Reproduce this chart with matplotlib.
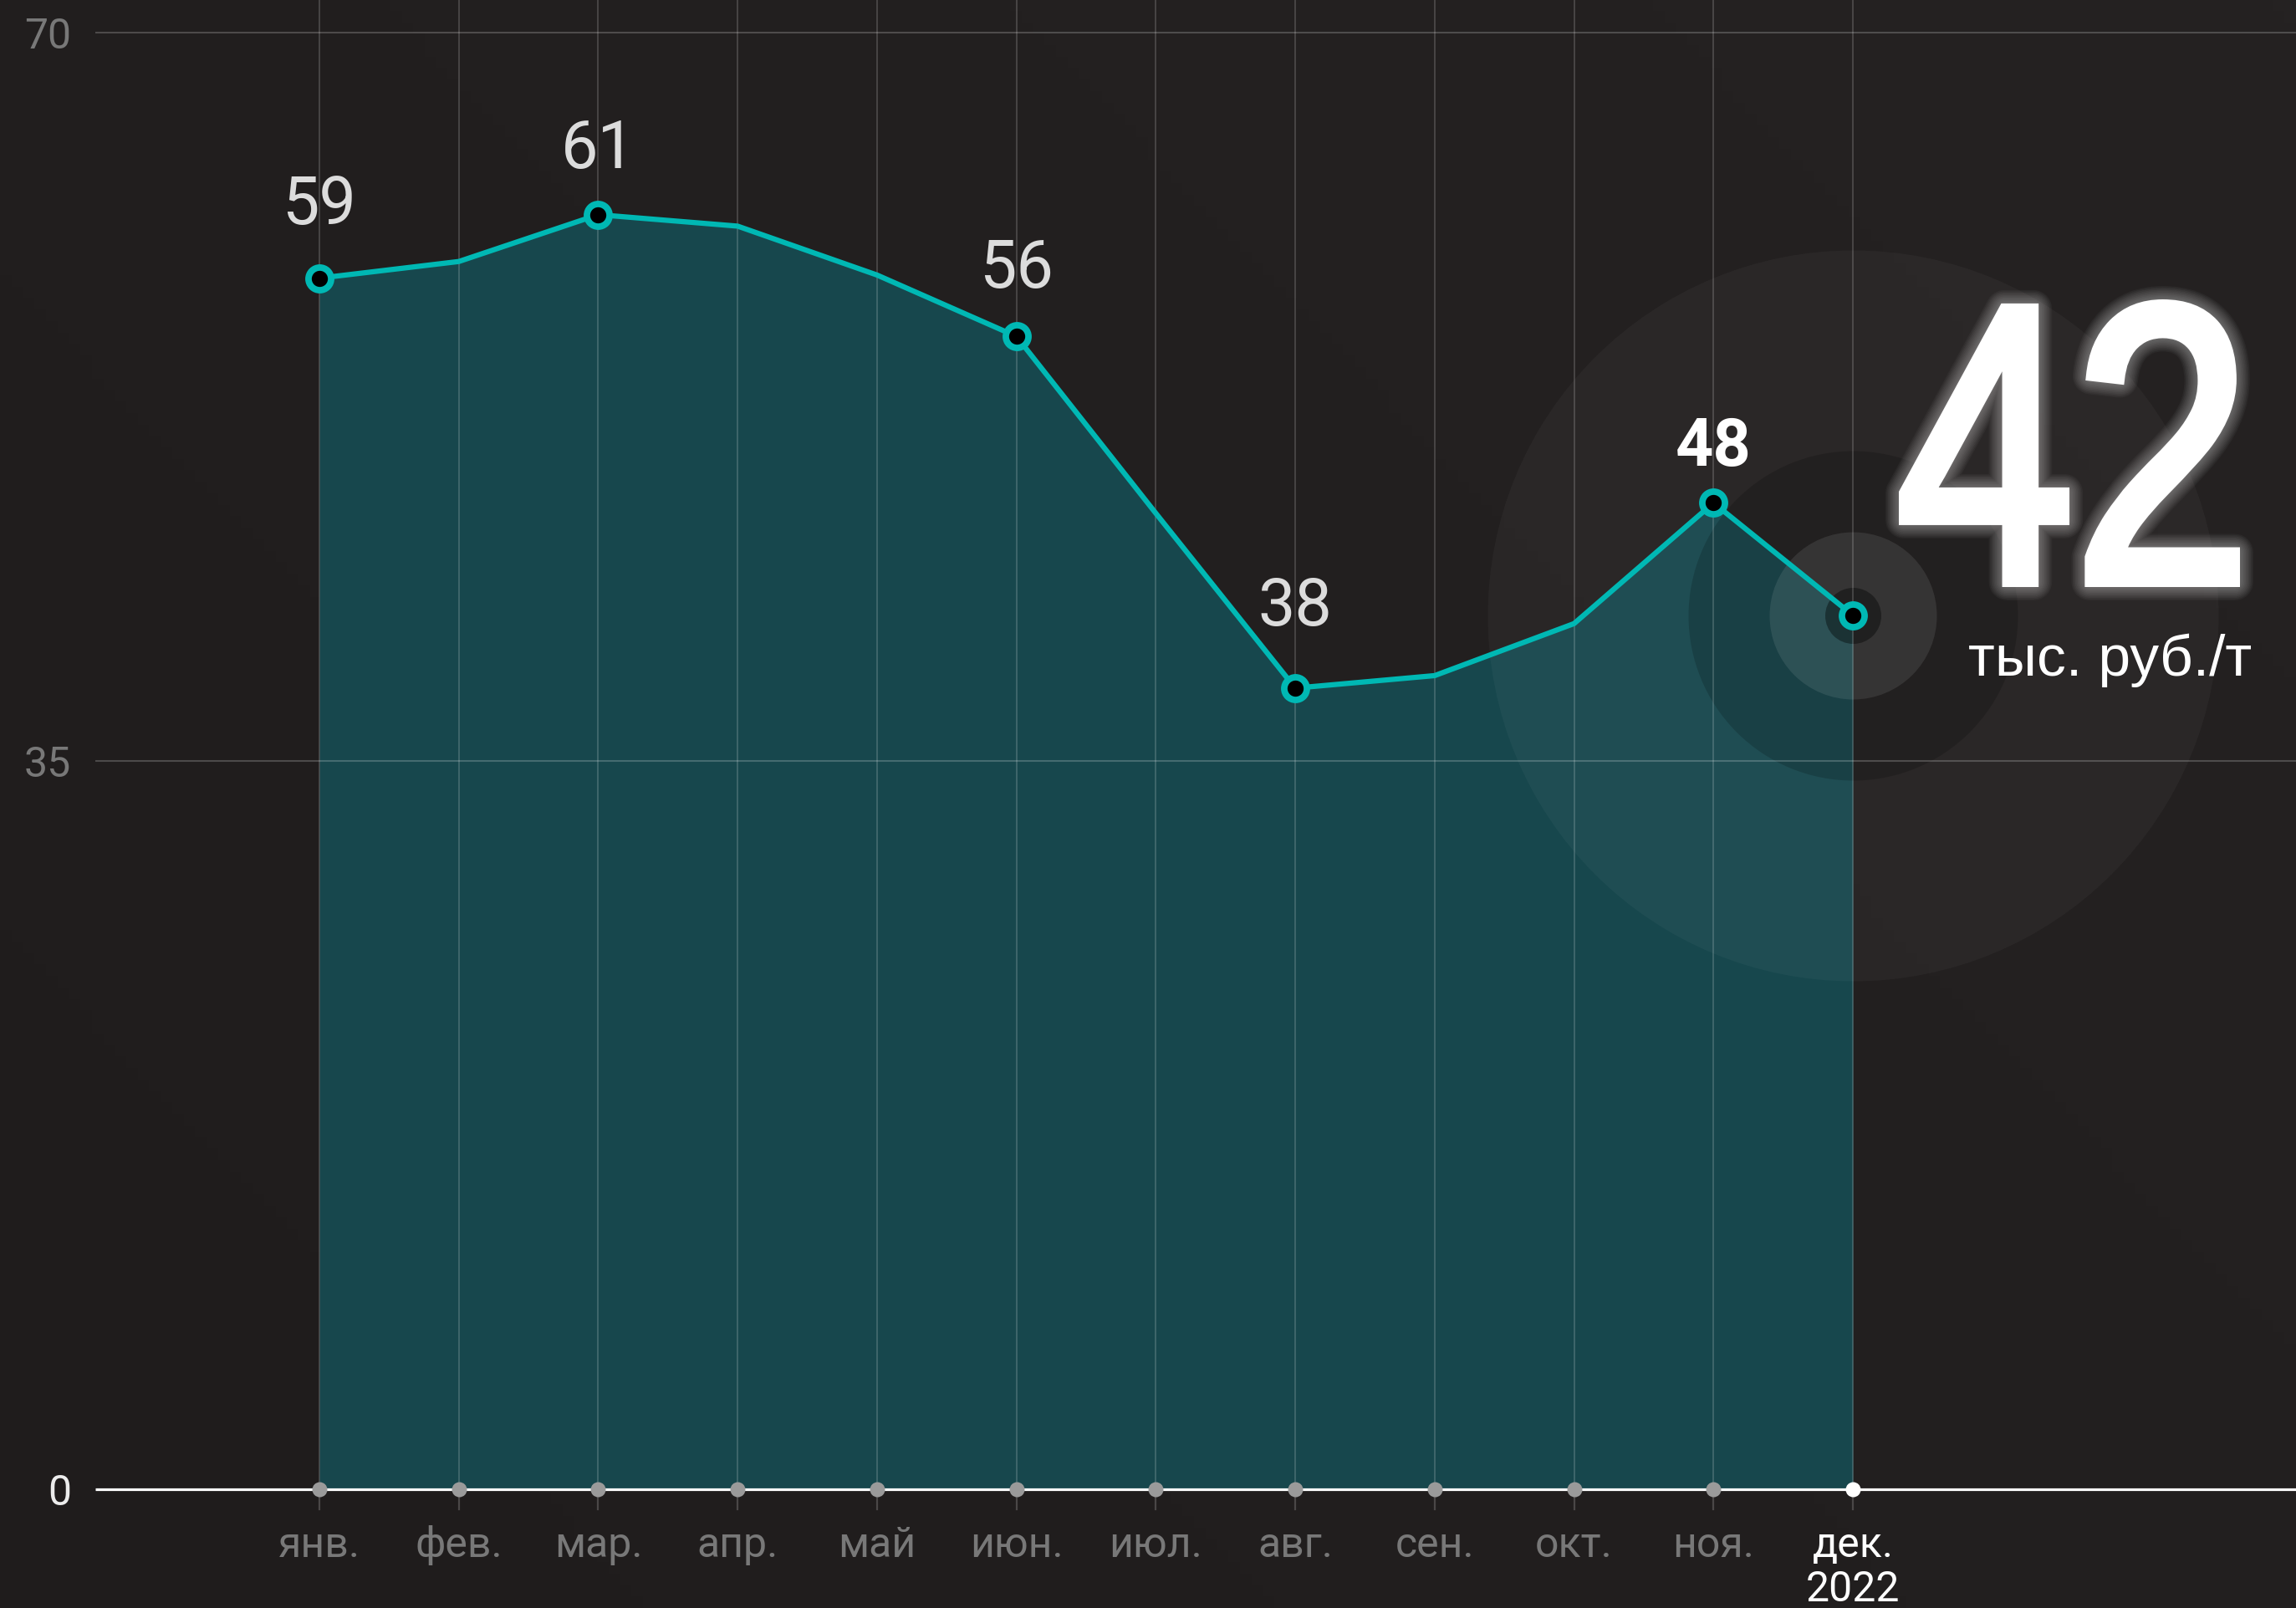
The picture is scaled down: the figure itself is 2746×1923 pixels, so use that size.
import matplotlib
matplotlib.use("Agg")
import matplotlib.pyplot as plt
import matplotlib.patheffects as pe
import matplotlib.transforms as mtransforms
from matplotlib.textpath import TextPath
from matplotlib.patches import PathPatch
from matplotlib.font_manager import FontProperties
import numpy as np

# ---------------- data ----------------
months = ["янв.", "фев.", "мар.", "апр.", "май", "июн.", "июл.",
          "авг.", "сен.", "окт.", "ноя.", "дек."]
year_label = "2022"
values = [58.2, 59.0, 61.25, 60.7, 58.35, 55.4, 46.9, 38.5, 39.1, 41.6, 47.4, 42.0]
labeled_idx = [0, 2, 5, 7, 10, 11]
value_labels = ["59", "61", "56", "38", "48"]       # labels for labeled_idx[:-1]
y_ticks = [0, 35, 70]
y_tick_labels = ["0", "35", "70"]
big_value = "42"
unit_label = "тыс. руб./т"

# ---------------- style ----------------
BG = "#211e1e"
FILL = "#17474d"
LINE = "#00b8b4"
W, H, DPI = 2746, 1924, 100

x_px0, x_step = 382.0, 166.73          # pixel position of first month & spacing
y_px0, y_unit = 1782.0, 24.886         # pixel (from top) of zero & px per unit
grid_left_px = 114.0

fig = plt.figure(figsize=(W / DPI, H / DPI), dpi=DPI, facecolor=BG)
ax = fig.add_axes([0, 0, 1, 1])
ax.set_facecolor(BG)
ax.axis("off")
ax.set_xlim(-x_px0 / x_step, (W - x_px0) / x_step)
ax.set_ylim((y_px0 - H) / y_unit, y_px0 / y_unit)
xmin, xmax = ax.get_xlim()
ymin, ymax = ax.get_ylim()
grid_left = (grid_left_px - x_px0) / x_step

# subtle background gradient (lighter towards upper right)
gx, gy = np.meshgrid(np.linspace(0, 1, 200), np.linspace(0, 1, 140))
grad = np.clip(gx * 0.6 + gy * 0.4, 0, 1)
ax.imshow(grad, extent=[xmin, xmax, ymin, ymax], origin="lower", aspect="auto",
          cmap=matplotlib.colors.LinearSegmentedColormap.from_list(
              "bg", ["#1f1c1c", "#252222"]), zorder=0)

x = np.arange(len(months))
vals = np.array(values)

# area fill
ax.fill_between(x, 0, vals, color=FILL, lw=0, zorder=1)

# concentric highlight circles around last point
px2pt = 72.0 / DPI
for diam_px, col, alpha in [(874, "white", 0.035), (394, "black", 0.17),
                            (200, "white", 0.09), (67, "black", 0.38)]:
    ax.scatter([x[-1]], [vals[-1]], s=(diam_px * px2pt) ** 2, color=col,
               alpha=alpha, lw=0, zorder=2)

# grid lines
for yt in y_ticks[1:]:
    ax.plot([grid_left, xmax], [yt, yt], color="white", alpha=0.2, lw=1.5, zorder=3,
            solid_capstyle="butt")
for xi in x:
    ax.plot([xi, xi], [0, ymax], color="white", alpha=0.17, lw=1.4, zorder=3)
    ax.plot([xi, xi], [0, -24 / y_unit], color="#4a4747", lw=1.6, zorder=3)

# zero axis
ax.plot([grid_left, xmax], [0, 0], color="white", lw=2.3, zorder=4,
        solid_capstyle="butt")
ax.scatter(x[:-1], np.zeros(len(x) - 1), s=(18 * px2pt) ** 2, color="#9a9a9a",
           lw=0, zorder=5)
ax.scatter([x[-1]], [0], s=(18 * px2pt) ** 2, color="white", lw=0, zorder=5)

# line + markers
ax.plot(x, vals, color=LINE, lw=4.5, zorder=6, solid_joinstyle="round")
ax.plot(x[labeled_idx], vals[labeled_idx], ls="none", marker="o", ms=19.5,
        mfc="black", mec=LINE, mew=5.6, zorder=7)

# value labels
label_font = "Roboto"
label_dy = [66, 57, 59, 76, 45]
for k, (i, lab) in enumerate(zip(labeled_idx[:-1], value_labels)):
    bold = (k == len(value_labels) - 1)
    ax.annotate(lab, (x[i], vals[i]), xytext=(0, label_dy[k]),
                textcoords="offset pixels", ha="center", va="baseline",
                fontsize=57, family=label_font,
                fontweight="bold" if bold else "normal",
                color="white" if bold else "#dcdcdc", zorder=8)

# y tick labels
for yt, lab in zip(y_ticks, y_tick_labels):
    ax.annotate(lab, (grid_left, yt), xytext=(-29, -18), textcoords="offset pixels",
                ha="right", va="baseline", fontsize=36, family=label_font,
                color="#ececec" if yt == 0 else "#787878")

# x tick labels
for i, m in enumerate(months):
    last = i == len(months) - 1
    ax.annotate(m, (x[i], 0), xytext=(0, -80), textcoords="offset pixels",
                ha="center", va="baseline", fontsize=36, family=label_font,
                color="white" if last else "#787878")
ax.annotate(year_label, (x[-1], 0), xytext=(0, -133), textcoords="offset pixels",
            ha="center", va="baseline", fontsize=36, family=label_font, color="white")

# big value "42" (condensed via path scaling) with soft glow
fp = FontProperties(family="Liberation Sans")
tp = TextPath((0, 0), big_value, size=100, prop=fp)
ext = tp.get_extents()
edge_px = 12.0
bx0, bx1 = 2271 + edge_px / 2, 2679 - edge_px / 2
by0, by1 = H - 703 + edge_px / 2, H - 359 - edge_px / 2
tr = (mtransforms.Affine2D().translate(-ext.x0, -ext.y0)
      .scale((bx1 - bx0) / ext.width, (by1 - by0) / ext.height)
      .translate(bx0, by0).scale(1.0 / DPI) + fig.dpi_scale_trans)
patch = PathPatch(tp, transform=tr, facecolor="white", edgecolor="white",
                  lw=edge_px * px2pt, joinstyle="miter", zorder=10)
glow = []
for w_px in np.arange(44, 12, -3):
    glow.append(pe.Stroke(linewidth=w_px * px2pt, foreground="#dddddd", alpha=0.045,
                          joinstyle="round"))
glow.append(pe.Normal())
patch.set_path_effects(glow)
fig.add_artist(patch)

fig.text(2524 / W, (H - 808) / H, unit_label, ha="center", va="baseline",
         fontsize=50, family="Liberation Sans", color="white")

fig.savefig("out.png", dpi=DPI, facecolor=BG)
